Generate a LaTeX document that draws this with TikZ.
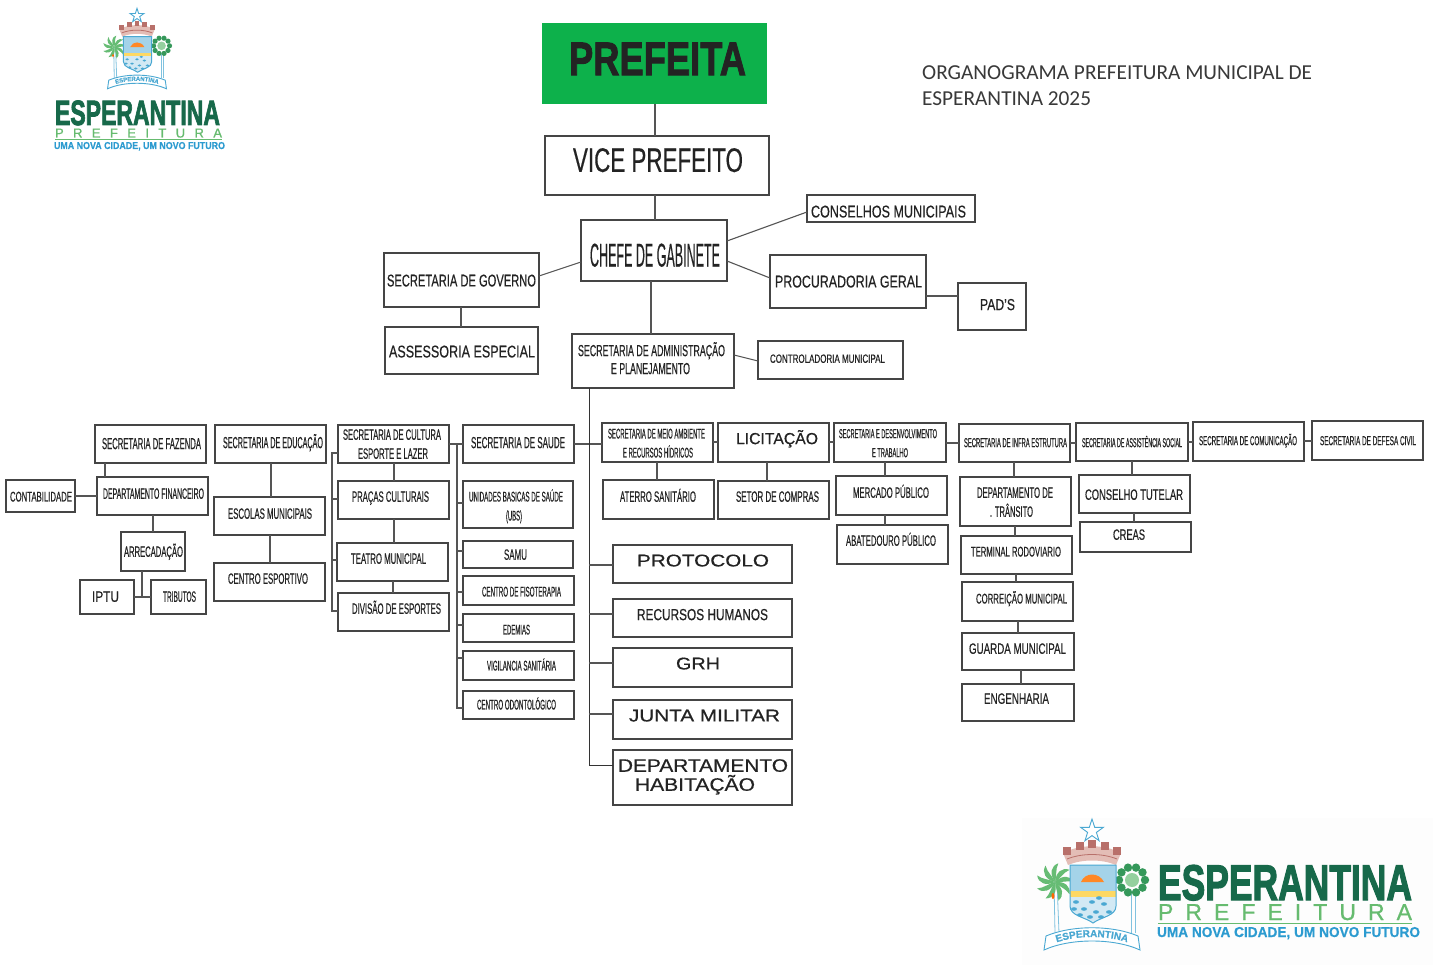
\documentclass[tikz,border=0pt]{standalone}
\usepackage{fontspec}
\usepackage{graphicx}
\usetikzlibrary{decorations.text}
\setmainfont[FakeBold=0.5]{Liberation Sans}
\newfontfamily\heavyf[BoldFeatures={FakeBold=2}]{Liberation Sans}
\newfontfamily\logof[BoldFeatures={FakeBold=2.6}]{Liberation Sans}
\newfontfamily\logol[FakeBold=0.8]{Liberation Sans}
\newfontfamily\carl{Carlito}
\definecolor{ink}{HTML}{232323}
\definecolor{edge}{HTML}{454545}
\definecolor{wire}{HTML}{555555}
\definecolor{prefgreen}{HTML}{0DB14B}
\definecolor{logodark}{HTML}{17694A}
\definecolor{logolight}{HTML}{66BB6F}
\definecolor{logoblue}{HTML}{2C9BD0}
\definecolor{crestblue}{HTML}{4AA8D2}
\definecolor{crownred}{HTML}{B8706A}
\definecolor{crownpale}{HTML}{E3BDB6}
\definecolor{leaf}{HTML}{66BC74}
\definecolor{leafdark}{HTML}{35985A}
\tikzset{
  boxs/.style={draw=edge,line width=1.05pt,inner sep=0pt,outer sep=0pt,text=ink,fill=white},
  wirel/.style={draw=wire,line width=1.1pt},
  busl/.style={draw=black!80,line width=0.9pt},
  logotext/.style={inner sep=0pt,outer sep=0pt,anchor=base west}
}
% text inside a box: x1 x2 cy size text (absolute picture positions)
\newcommand\tx[5]{%
  \pgfmathsetmacro\dxx{(#1+#2)/2-\curcx}%
  \pgfmathsetmacro\dyy{\curcy-#3-0.32*#4}%
  \pgfmathsetmacro\www{#2-#1}%
  \smash{\rlap{\hspace*{\dxx pt}\makebox[0pt][c]{\raisebox{\dyy pt}{\resizebox{\www pt}{\height}{\fontsize{#4}{#4}\selectfont #5}}}}}%
}
\newcommand\bx[7][]{%
  \pgfmathsetmacro\curcx{(#3+#5)/2}%
  \pgfmathsetmacro\curcy{(#4+#6)/2}%
  \node[boxs,#1,minimum width={(#5-#3)*1pt},minimum height={(#6-#4)*1pt}] (#2) at (\curcx,\curcy) {#7};%
}
% vertical connector at x between a.south and b.north
\newcommand\vl[3]{\draw[wirel] (#1,0 |- #2.south) -- (#1,0 |- #3.north);}
% horizontal connector at y between a.east and b.west
\newcommand\hl[3]{\draw[wirel] (#2.east |- 0,#1) -- (#3.west |- 0,#1);}
% crest, drawn around the centre of the shield
\newcommand\crest[4]{%
\begin{scope}[shift={(#1,#2)},scale=#3]
  % star
  \draw[crestblue,line width=0.9pt,fill=white] (0,-67) -- (2.7,-58.7) -- (11.4,-58.7) -- (4.4,-53.6) -- (7.05,-45.3) -- (0,-50.4) -- (-7.05,-45.3) -- (-4.4,-53.6) -- (-11.4,-58.7) -- (-2.7,-58.7) -- cycle;
  % crown
  \fill[crownpale] (-29,-33) .. controls (-12,-42) and (12,-42) .. (29,-33) -- (24,-21) .. controls (10,-27) and (-10,-27) .. (-24,-21) -- cycle;
  \foreach \mx/\my in {-25/-36,-12.5/-41,0/-43,12.5/-41,25/-36}{
    \fill[crownred] (\mx-4,\my-3.5) rectangle (\mx+4,\my+5);
  }
  \draw[crownred,line width=0.8pt] (-25,-27) .. controls (-10,-33) and (10,-33) .. (25,-27);
  % palm
  \draw[crestblue!70,line width=0.8pt] (-38,-4) -- (-37,47) (-35,-4) -- (-33,47);
  \foreach \a in {0,40,...,320}{
    \fill[leaf,rotate around={\a:(-37,-4)}] (-37,-4) .. controls (-30,-11) and (-22,-11) .. (-18,-4) .. controls (-25,-6) and (-31,-3) .. cycle;
  }
  \fill[orange!80!red] (-39,10) ellipse (1.5 and 3);
  % round tree
  \draw[crestblue!70,line width=0.8pt] (39,8) -- (39,47) (43,8) -- (43,47);
  \fill[leaf!70] (40,-6) circle (7);
  \foreach \a in {0,36,...,324}{\fill[leafdark] (40,-6) ++(\a:13) circle (4.2);}
  % shield
  \begin{scope}
    \clip (-22,-21) -- (24,-21) -- (24,20) .. controls (24,30) and (9,31) .. (1,37) .. controls (-7,31) and (-22,30) .. (-22,20) -- cycle;
    \fill[crestblue!50] (-22,-21) rectangle (24,5);
    \fill[orange!90!red!85] (-11,-4) .. controls (-7,-14) and (7,-14) .. (12,-4) -- cycle;
    \fill[yellow!55!orange!60] (-22,5) rectangle (24,11);
    \fill[crestblue!25] (-22,11) rectangle (24,40);
    \foreach \bxx/\byy in {-16/16,-8/23,-12/29,0/16,4/26,12/18,17/26,-2/31,9/31,-18/23,7/12}{
      \fill[crestblue] (\bxx,\byy) ellipse (3 and 1.8);
    }
  \end{scope}
  \draw[crestblue,line width=1pt] (-22,-21) -- (24,-21) -- (24,20) .. controls (24,30) and (9,31) .. (1,37) .. controls (-7,31) and (-22,30) .. (-22,20) -- cycle;
  % ribbon
  \draw[crestblue,line width=0.9pt,fill=white] (-46,50) .. controls (-20,39) and (20,39) .. (46,50) -- (48,64) .. controls (22,52) and (-22,52) .. (-48,64) -- cycle;
  \path[decorate,decoration={text along path,text align=center,text color=crestblue,text={|\fontsize{#4}{#4}\selectfont\bfseries|ESPERANTINA}}] (-44,60) .. controls (-20,48) and (20,48) .. (44,60);
\end{scope}}
\begin{document}
\begin{tikzpicture}[x=1pt,y=-1pt]
\useasboundingbox (0,0) rectangle (1433,965);
\fill[white] (0,0) rectangle (1433,965);
\fill[black!0.8!white] (1022,818) rectangle (1433,965);

% ---------- upper part
\bx[fill=prefgreen,draw=none]{prefeita}{542}{23}{767}{104}{\tx{569}{746}{60}{47}{\heavyf\bfseries PREFEITA}}
\bx{vice}{545}{136}{769}{195}{\tx{573}{743}{161}{34}{VICE PREFEITO}}
\bx{chefe}{581}{220}{727}{281}{\tx{590}{720}{256}{33}{CHEFE DE GABINETE}}
\bx{conselhos}{807}{195}{975}{222}{\tx{811}{966}{212}{17}{CONSELHOS MUNICIPAIS}}
\bx{governo}{384}{253}{539}{307}{\tx{387}{536}{281}{17}{SECRETARIA DE GOVERNO}}
\bx{assessoria}{385}{327}{538}{374}{\tx{389}{535}{352}{17}{ASSESSORIA ESPECIAL}}
\bx{procuradoria}{770}{255}{926}{308}{\tx{775}{922}{282}{17}{PROCURADORIA GERAL}}
\bx{pads}{958}{283}{1026}{330}{\tx{980}{1015}{305}{16}{PAD'S}}
\bx{admin}{572}{334}{734}{388}{\tx{578}{725}{351}{16}{SECRETARIA DE ADMINISTRAÇÃO}\tx{611}{690}{369}{16}{E PLANEJAMENTO}}
\bx{controladoria}{758}{341}{903}{379}{\tx{770}{885}{359}{12}{CONTROLADORIA MUNICIPAL}}

\vl{655}{prefeita}{vice}
\vl{655}{vice}{chefe}
\vl{651}{chefe}{admin}
\vl{461}{governo}{assessoria}
\hl{296}{procuradoria}{pads}
\draw[wirel] (chefe.east |- 0,241) -- (conselhos.west |- 0,212);
\draw[wirel] (chefe.west |- 0,262) -- (governo.east |- 0,276);
\draw[wirel] (chefe.east |- 0,261) -- (procuradoria.west |- 0,278);
\draw[wirel,line width=1pt] (admin.east |- 0,355) -- (controladoria.west |- 0,361);

% ---------- fazenda
\bx{fazenda}{95}{425}{206}{463}{\tx{102}{201}{444}{16}{SECRETARIA DE FAZENDA}}
\bx{contab}{6}{480}{75}{512}{\tx{10}{72}{497}{14}{CONTABILIDADE}}
\bx{depfin}{97}{477}{208}{515}{\tx{103}{204}{494}{15}{DEPARTAMENTO FINANCEIRO}}
\bx{arrec}{121}{532}{185}{571}{\tx{124}{183}{552}{15}{ARRECADAÇÃO}}
\bx{iptu}{80}{580}{134}{614}{\tx{92}{119}{597}{15}{IPTU}}
\bx{tributos}{151}{580}{206}{614}{\tx{163}{196}{597}{15}{TRIBUTOS}}
\vl{105}{fazenda}{depfin}
\hl{496}{contab}{depfin}
\vl{153}{depfin}{arrec}
\hl{597}{iptu}{tributos}
\draw[wirel] (142,0 |- arrec.south) -- (142,597);

% ---------- educação
\bx{educacao}{215}{425}{326}{463}{\tx{223}{323}{443}{16}{SECRETARIA DE EDUCAÇÃO}}
\bx{escolas}{214}{497}{325}{535}{\tx{228}{312}{514}{15}{ESCOLAS MUNICIPAIS}}
\bx{cesportivo}{214}{563}{325}{601}{\tx{228}{308}{579}{15}{CENTRO ESPORTIVO}}
\vl{271}{educacao}{escolas}
\vl{270}{escolas}{cesportivo}

% ---------- cultura
\bx{cultura}{338}{425}{449}{463}{\tx{343}{441}{435}{15}{SECRETARIA DE CULTURA}\tx{358}{428}{454}{15}{ESPORTE E LAZER}}
\bx{pracas}{338}{481}{449}{519}{\tx{352}{429}{497}{15}{PRAÇAS CULTURAIS}}
\bx{teatro}{337}{543}{448}{581}{\tx{351}{426}{559}{15}{TEATRO MUNICIPAL}}
\bx{divisao}{338}{593}{449}{631}{\tx{352}{441}{609}{15}{DIVISÃO DE ESPORTES}}
\vl{394}{cultura}{pracas}
\vl{394}{pracas}{teatro}
\vl{393}{teatro}{divisao}
\coordinate (brkc) at (332,0);
\draw[wirel] (cultura.west |- 0,453) -- (brkc |- 0,453) -- (brkc |- 0,611) -- (divisao.west |- 0,611);
\draw[wirel] (brkc |- 0,499) -- (pracas.west |- 0,499);
\draw[wirel] (brkc |- 0,560) -- (teatro.west |- 0,560);

% ---------- saúde
\bx{saude}{463}{425}{574}{463}{\tx{471}{565}{443}{16}{SECRETARIA DE SAUDE}}
\bx{ubs}{463}{481}{573}{528}{\tx{469}{563}{497}{14}{UNIDADES BASICAS DE SAÚDE}\tx{506}{522}{516}{14}{(UBS)}}
\bx{samu}{463}{541}{573}{568}{\tx{504}{527}{555}{15}{SAMU}}
\bx{fisio}{463}{576}{574}{605}{\tx{482}{561}{592}{14}{CENTRO DE FISOTERAPIA}}
\bx{edemias}{463}{614}{574}{642}{\tx{503}{530}{630}{14}{EDEMIAS}}
\bx{vigil}{463}{651}{574}{680}{\tx{487}{556}{666}{14}{VIGILANCIA SANITÁRIA}}
\bx{odonto}{463}{691}{574}{719}{\tx{477}{556}{705}{14}{CENTRO ODONTOLÓGICO}}
\hl{444}{cultura}{saude}
\coordinate (brks) at (457,0);
\draw[wirel] (brks |- 0,444) -- (brks |- 0,708) -- (odonto.west |- 0,708);
\draw[wirel] (brks |- 0,503) -- (ubs.west |- 0,503);
\draw[wirel] (brks |- 0,551) -- (samu.west |- 0,551);
\draw[wirel] (brks |- 0,592) -- (fisio.west |- 0,592);
\draw[wirel] (brks |- 0,625) -- (edemias.west |- 0,625);
\draw[wirel] (brks |- 0,658) -- (vigil.west |- 0,658);

% ---------- meio ambiente, licitação, desenvolvimento
\bx{meio}{602}{423}{713}{462}{\tx{608}{705}{434}{14}{SECRETARIA DE MEIO AMBIENTE}\tx{623}{693}{453}{14}{E RECURSOS HÍDRICOS}}
\bx{aterro}{603}{480}{714}{519}{\tx{620}{696}{497}{15}{ATERRO SANITÁRIO}}
\bx{licit}{718}{423}{829}{462}{\tx{736}{818}{439}{16}{LICITAÇÃO}}
\bx{setor}{718}{481}{829}{519}{\tx{736}{819}{497}{15}{SETOR DE COMPRAS}}
\bx{desenv}{834}{423}{946}{462}{\tx{839}{937}{434}{13}{SECRETARIA E DESENVOLVIMENTO}\tx{872}{908}{453}{13}{E TRABALHO}}
\bx{mercado}{836}{476}{947}{515}{\tx{853}{929}{493}{15}{MERCADO PÚBLICO}}
\bx{abate}{837}{525}{948}{564}{\tx{846}{936}{541}{15}{ABATEDOURO PÚBLICO}}
\hl{444}{saude}{meio}
\hl{442}{meio}{licit}
\hl{442}{licit}{desenv}
\vl{657}{meio}{aterro}
\vl{767}{licit}{setor}
\vl{885}{desenv}{mercado}
\vl{885}{mercado}{abate}

% ---------- barramento central
\bx{protocolo}{613}{545}{792}{583}{\tx{637}{769}{561}{17}{PROTOCOLO}}
\bx{rh}{613}{599}{792}{637}{\tx{637}{768}{615}{16}{RECURSOS HUMANOS}}
\bx{grh}{613}{648}{792}{687}{\tx{676}{720}{664}{17}{GRH}}
\bx{junta}{613}{700}{792}{739}{\tx{629}{780}{716}{17}{JUNTA MILITAR}}
\bx{habit}{613}{750}{792}{805}{\tx{618}{788}{766}{18}{DEPARTAMENTO}\tx{635}{755}{785}{18}{HABITAÇÃO}}
\coordinate (bus) at (589,0);
\draw[busl] (bus |- admin.south) -- (bus |- 0,765) -- (habit.west |- 0,765);
\draw[wirel] (bus |- 0,565) -- (protocolo.west |- 0,565);
\draw[wirel] (bus |- 0,614) -- (rh.west |- 0,614);
\draw[wirel] (bus |- 0,663) -- (grh.west |- 0,663);
\draw[wirel] (bus |- 0,714) -- (junta.west |- 0,714);

% ---------- infra
\bx{infra}{959}{424}{1070}{462}{\tx{964}{1067}{443}{13}{SECRETARIA DE INFRA ESTRUTURA}}
\bx{transito}{960}{477}{1071}{526}{\tx{977}{1053}{493}{15}{DEPARTAMENTO DE}\tx{990}{1033}{512}{15}{. TRÂNSITO}}
\bx{terminal}{961}{536}{1072}{574}{\tx{971}{1061}{552}{14}{TERMINAL RODOVIARIO}}
\bx{correicao}{962}{582}{1073}{621}{\tx{976}{1067}{599}{14}{CORREIÇÃO MUNICIPAL}}
\bx{guarda}{962}{633}{1074}{670}{\tx{969}{1066}{649}{15}{GUARDA MUNICIPAL}}
\bx{engenharia}{962}{684}{1074}{721}{\tx{984}{1049}{699}{15}{ENGENHARIA}}
\hl{443}{desenv}{infra}
\vl{1014}{infra}{transito}
\vl{1015}{transito}{terminal}
\vl{1016}{terminal}{correicao}
\vl{1018}{correicao}{guarda}
\vl{1021}{guarda}{engenharia}

% ---------- assistência, comunicação, defesa civil
\bx{assist}{1076}{423}{1188}{461}{\tx{1082}{1182}{443}{13}{SECRETARIA DE ASSISTÊNCIA SOCIAL}}
\bx{comun}{1193}{422}{1304}{461}{\tx{1199}{1297}{441}{13}{SECRETARIA DE COMUNICAÇÃO}}
\bx{defesa}{1312}{421}{1423}{460}{\tx{1320}{1416}{441}{13}{SECRETARIA DE DEFESA CIVIL}}
\bx{tutelar}{1079}{475}{1190}{513}{\tx{1085}{1183}{495}{15}{CONSELHO TUTELAR}}
\bx{creas}{1080}{522}{1191}{552}{\tx{1113}{1145}{535}{15}{CREAS}}
\hl{443}{infra}{assist}
\hl{442}{assist}{comun}
\hl{441}{comun}{defesa}
\vl{1132}{assist}{tutelar}
\vl{1134}{tutelar}{creas}

% ---------- título
\node[anchor=north west,inner sep=0pt,align=left,text=ink!90,font={\carl\fontsize{21.3}{26.5}\selectfont}] (titulo) at (922,65) {ORGANOGRAMA PREFEITURA MUNICIPAL DE\\ESPERANTINA 2025};

% ---------- logotipo superior
\crest{137}{49.5}{0.614}{6}
\node[logotext] (lg1a) at (55,125) {\resizebox{165pt}{24.5pt}{\textcolor{logodark}{\logof\bfseries ESPERANTINA}}};
\node[logotext] (lg1b) at (55,137.5) {\makebox[167pt][s]{\fontsize{13}{13}\selectfont\logol\color{logolight}P\hfill R\hfill E\hfill F\hfill E\hfill I\hfill T\hfill U\hfill R\hfill A}};
\draw[logolight,line width=0.7pt] (lg1b.south west |- 0,139.5) -- (lg1b.south east |- 0,139.5);
\node[logotext] (lg1c) at (54,149) {\resizebox{171pt}{7pt}{\textcolor{logoblue}{\bfseries UMA NOVA CIDADE, UM NOVO FUTURO}}};

% ---------- logotipo inferior
\crest{1092}{886}{1}{10}
\node[logotext] (lg2a) at (1158,900) {\resizebox{254pt}{35pt}{\textcolor{logodark}{\logof\bfseries ESPERANTINA}}};
\node[logotext] (lg2b) at (1158,920) {\makebox[254pt][s]{\fontsize{23}{23}\selectfont\logol\color{logolight}P\hfill R\hfill E\hfill F\hfill E\hfill I\hfill T\hfill U\hfill R\hfill A}};
\draw[logolight,line width=0.8pt] (lg2b.south west |- 0,923) -- (lg2b.south east |- 0,923);
\node[logotext] (lg2c) at (1157,937) {\resizebox{263pt}{10pt}{\textcolor{logoblue}{\bfseries UMA NOVA CIDADE, UM NOVO FUTURO}}};
\end{tikzpicture}
\end{document}
